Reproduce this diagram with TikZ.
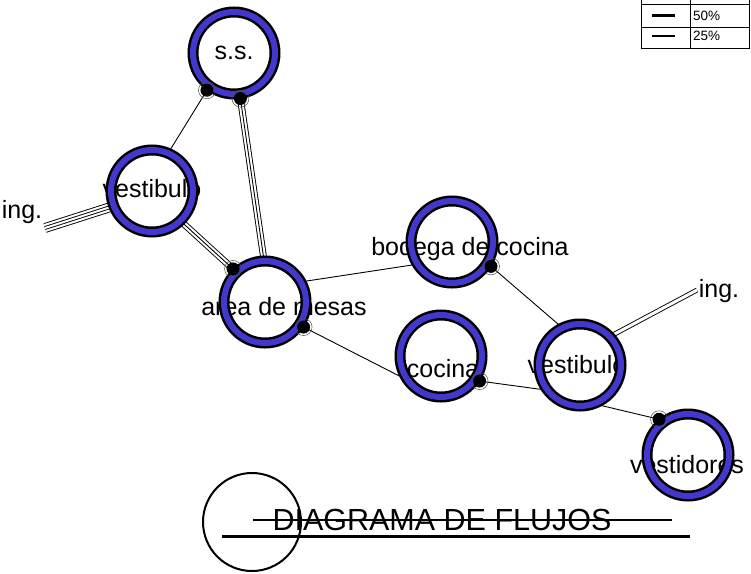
\documentclass[tikz,border=0pt]{standalone}
\usepackage{fontspec}
\setmainfont{Liberation Sans}
\usetikzlibrary{backgrounds}
\definecolor{ringblue}{RGB}{66,56,204}
\begin{document}
\begin{tikzpicture}[x=1pt,y=-1pt,
  hub/.style={circle,minimum size=92pt,inner sep=0pt,outer sep=0pt},
  lbl/.style={font=\fontsize{25}{30}\selectfont,inner sep=0pt,anchor=base},
  one/.style={line width=0.9pt},
  dbl/.style={line width=0.9pt,double distance=3pt},
  triple/.style={line width=0.9pt,preaction={draw,line width=0.9pt,double distance=5pt}},
  quad/.style={line width=0.9pt,double distance=2pt,preaction={draw,line width=0.9pt,double distance=8pt}},
  ring/.style={line width=2.5pt,double=ringblue,double distance=6pt},
  blob/.style={fill=black},
  legtxt/.style={font=\fontsize{13.5}{15}\selectfont,inner sep=0pt,anchor=base west}
]
\useasboundingbox (0,0) rectangle (751,573);

% hubs
\node[hub] (ss) at (234,53) {};
\node[hub] (vl) at (152,191) {};
\node[hub] (am) at (265,302) {};
\node[hub] (bc) at (452,242) {};
\node[hub] (co) at (441,356) {};
\node[hub] (vr) at (580,365) {};
\node[hub] (vd) at (688,455) {};
\coordinate (iL) at (45,228);
\coordinate (iR) at (697,290);

% labels
\node[lbl] (tss) at (234,59) {s.s.};
\node[lbl] (tvl) at (152,197) {vestibulo};
\node[lbl] (tam) at (284,315) {area de mesas};
\node[lbl] (tbc) at (470,255) {bodega de cocina};
\node[lbl] (tco) at (443,377) {cocina};
\node[lbl] (tvr) at (577,373) {vestibulo};
\node[lbl] (tvd) at (687,473) {vestidores};
\node[lbl] (ingL) at (22,218) {ing.};
\node[lbl] (ingR) at (719,297) {ing.};

% connectors
\begin{scope}[on background layer]
\draw[one] (ss.234) -- (vl.66);
\draw[triple] (ss.278) -- (am.92);
\draw[triple] (vl.314) -- (am.134);
\draw[quad] (iL) -- (vl.201);
\draw[one] (am.27) -- (bc.210);
\draw[one] (am.327) -- (co.206);
\draw[one] (co.327) -- (vr.212);
\draw[one] (bc.328) -- (vr.118);
\draw[one] (vr.298) -- (vd.129);
\draw[dbl] (vr.42) -- (iR);
\end{scope}

% rings
\foreach \n in {ss,vl,am,bc,co,vr,vd}{
  \draw[ring] (\n) circle (41);
}

% junction blobs
\foreach \p in {ss.234,ss.278,am.134,am.327,bc.328,co.327,vd.129}{
  \fill[blob] (\p) circle (6.5);
  \draw[line width=0.5pt,black!70] (\p) circle (8.5);
}

% title
\node[font=\fontsize{30.5}{36}\selectfont,anchor=base,inner sep=0pt] (title) at (442,530) {DIAGRAMA DE FLUJOS};
\draw[line width=2pt] (253,520) -- (672,520);
\draw[line width=3pt] (222,536) -- (690,536);
\draw[line width=2pt] (252,522) circle (49);

% legend
\draw[line width=0.8pt] (641,0) -- (641,48) (690,0) -- (690,48) (749.5,0) -- (749.5,48)
  (641,4) -- (749.5,4) (641,27) -- (749.5,27) (641,48) -- (749.5,48);
\draw[line width=3pt] (652,15) -- (675,15);
\draw[line width=1.2pt] (652,36) -- (675,36);
\node[legtxt] (l50) at (693,20) {50\%};
\node[legtxt] (l25) at (693,40) {25\%};
\end{tikzpicture}
\end{document}
